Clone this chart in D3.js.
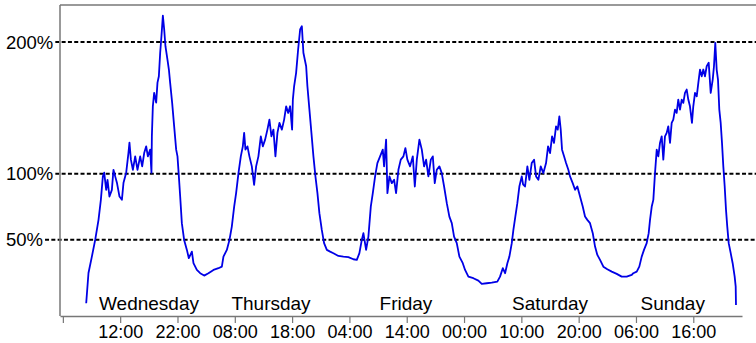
<!DOCTYPE html>
<html>
<head>
<meta charset="utf-8">
<script src="https://cdn.jsdelivr.net/npm/d3@7"></script>
<style>
  html, body { margin: 0; padding: 0; background: #fff; }
  svg { display: block; font-family: "Liberation Sans", Arial, Helvetica, sans-serif; }
</style>
</head>
<body>
<svg id="chart" width="756" height="343"></svg>
<script>
// Hours since Wednesday 00:00
const hours = [
  6.07,6.47,7.06,7.64,8.22,8.63,8.98,9.21,9.56,9.79,10.13,10.55,10.83,11.13,11.43,11.88,12.30,12.58,13.05,13.45,
  13.62,13.87,14.22,14.62,15.02,15.49,15.84,16.19,16.54,16.83,17.23,17.46,17.53,17.70,17.93,18.28,18.51,18.75,18.98,19.20,
  19.45,19.68,19.90,20.25,20.50,20.72,21.07,21.42,21.77,22.00,22.24,22.47,22.76,23.16,23.64,23.98,24.51,24.79,25.38,25.96,
  26.65,27.40,28.28,29.15,29.74,30.02,30.61,31.07,31.48,31.89,32.23,32.64,33.05,33.40,33.63,33.86,34.21,34.55,34.97,35.37,
  35.72,36.12,36.54,36.89,37.29,37.69,38.04,38.39,38.74,39.09,39.44,39.79,40.21,40.61,40.96,41.31,41.65,42.00,42.13,42.35,
  42.70,43.05,43.40,43.70,43.97,44.45,44.67,45.02,45.37,45.72,46.07,46.42,46.76,47.18,47.58,48.06,48.63,49.21,50.08,50.95,
  51.82,52.69,53.29,53.74,54.16,54.44,54.91,55.31,55.73,56.08,56.48,56.88,57.35,57.82,58.05,58.40,58.63,58.98,59.39,59.80,
  60.14,60.55,60.96,61.42,61.77,62.11,62.58,63.06,63.41,63.76,64.21,64.63,65.03,65.38,65.78,66.20,66.55,66.89,67.24,67.70,
  68.11,68.52,68.99,69.44,69.86,70.26,70.73,71.19,71.78,72.18,72.76,73.63,74.50,75.09,75.96,76.84,77.81,78.28,78.76,79.16,
  79.56,79.91,80.33,80.61,80.95,81.30,81.65,82.07,82.30,82.64,83.05,83.40,83.81,84.22,84.57,84.97,85.38,85.84,86.31,86.66,
  87.01,87.36,87.70,88.05,88.35,88.63,88.87,89.10,89.45,89.80,90.20,90.49,90.96,91.37,91.77,92.24,92.71,93.11,93.51,93.98,
  94.46,94.86,95.26,95.73,96.31,97.00,97.77,98.64,99.51,100.38,101.26,101.54,102.13,102.58,103.00,103.40,103.87,104.22,104.45,104.75,
  105.03,105.32,105.62,105.90,106.19,106.49,106.77,107.06,107.36,107.64,107.94,108.23,108.51,108.81,109.10,109.38,109.68,109.98,110.26,110.55,
  110.85,111.13,111.42,111.77,112.00,112.30,112.60,112.88,113.17,113.47,113.75,114.04,114.34,114.69,115.04,115.39,115.61,115.84,116.08,116.31,
  116.54,116.78,117.01,117.24,117.48,117.71,117.93,118.18,118.53,118.87,119.22,119.40,119.45
];
// Load relative to average (%)
const load = [
  1.7,24.7,37.1,49.8,65.0,80.2,98.0,100.8,87.8,95.4,82.7,87.8,103.0,98.0,93.2,82.7,80.2,93.2,100.8,116.0,
  123.6,110.7,103.0,113.2,103.0,113.2,105.6,115.7,120.8,113.2,118.3,100.8,128.4,151.2,161.4,154.0,169.2,174.0,191.8,204.4,
  220.0,209.5,196.8,186.7,179.1,169.0,153.8,136.0,118.3,113.2,98.0,82.7,62.5,49.8,42.2,35.9,40.9,32.1,27.0,24.5,
  22.7,24.5,27.0,28.3,29.5,37.1,42.2,49.8,59.9,75.1,85.3,100.5,113.2,120.8,131.0,118.3,120.8,113.2,105.6,91.6,
  105.6,113.2,128.4,120.8,125.9,133.5,141.1,128.4,133.5,113.2,131.0,138.6,133.5,141.1,151.2,146.2,151.2,133.5,156.3,166.4,
  176.6,194.3,209.5,212.0,191.8,181.6,166.4,148.7,131.0,113.2,98.0,85.3,70.1,57.4,47.3,42.2,40.9,39.7,37.6,37.1,
  36.7,35.1,34.6,39.7,49.8,54.9,42.2,52.3,75.1,85.3,98.0,108.1,113.2,118.3,105.6,125.9,85.3,98.0,92.9,95.4,
  85.3,103.0,110.7,113.2,119.5,110.7,105.6,113.2,90.3,110.7,125.9,118.3,105.6,110.7,98.0,110.7,113.2,92.9,103.0,105.6,
  100.5,90.3,77.7,67.5,62.5,52.3,47.3,37.1,32.1,27.0,21.9,20.7,18.9,16.4,16.9,17.3,18.1,21.9,28.3,24.5,
  32.1,37.1,47.3,57.4,67.5,77.7,90.3,98.0,92.0,90.3,105.6,95.4,108.1,110.7,98.0,95.4,105.6,100.5,108.1,120.8,
  115.7,128.4,123.4,136.0,133.5,143.6,133.5,118.3,113.2,108.1,103.0,98.0,92.9,87.8,90.3,82.7,75.1,67.5,65.0,62.5,
  54.9,44.7,38.4,34.6,29.5,27.5,25.7,24.0,21.9,21.9,23.2,24.5,25.7,29.5,37.1,42.2,47.3,54.9,65.0,75.1,
  80.2,100.5,118.3,113.2,123.4,128.4,110.7,128.4,131.0,136.0,123.4,138.6,141.1,148.7,146.2,156.3,148.7,156.3,153.8,161.4,
  163.9,156.3,151.2,138.6,151.2,161.4,158.8,169.0,179.1,174.0,179.1,174.0,181.6,184.2,161.4,171.5,181.6,199.4,179.1,171.5,
  148.7,138.6,123.4,105.6,90.3,72.6,59.9,47.3,39.7,32.1,21.9,14.3,0.4
];

const tickHours  = [2, 12, 22, 32, 42, 52, 62, 72, 82, 92, 102, 112];
const tickLabels = ["", "12:00", "22:00", "08:00", "18:00", "04:00", "14:00", "00:00", "10:00", "20:00", "06:00", "16:00"];

const dayNames = ["Wednesday", "Thursday", "Friday", "Saturday", "Sunday"];
const dayLabelHours = [17.03, 38.32, 61.87, 87.0, 108.41];

const refLevels = [200, 100, 50];
const refLabels = ["200%", "100%", "50%"];

const data = hours.map((h, i) => ({ h, v: load[i] }));

const svg = d3.select("#chart");
const W = 756;
const plotLeft = 60, plotRight = 742, plotTop = 5, plotBottom = 316;

const x = d3.scaleLinear().domain([1.5, 120.5]).range([plotLeft, plotRight]);
const y = d3.scaleLinear().domain([0, 200]).range([305.5, 42]);

const frameColor = "#777777";

// reference labels + dashed lines
const refG = svg.append("g");
refLevels.forEach((lv, i) => {
  const t = refG.append("text")
    .attr("x", 6)
    .attr("y", y(lv))
    .attr("dy", "0.36em")
    .attr("font-size", "18.5px")
    .attr("fill", "#000")
    .text(refLabels[i]);
  const tw = t.node().getComputedTextLength();
  refG.append("line")
    .attr("x1", 6 + tw + 2)
    .attr("x2", W)
    .attr("y1", y(lv))
    .attr("y2", y(lv))
    .attr("stroke", "#000")
    .attr("stroke-width", 2)
    .attr("stroke-dasharray", "4,2.3");
});

// frame: left and top
svg.append("line").attr("x1", plotLeft).attr("x2", plotLeft).attr("y1", plotTop).attr("y2", plotBottom)
  .attr("stroke", frameColor).attr("stroke-width", 1.5);
svg.append("line").attr("x1", plotLeft).attr("x2", W).attr("y1", plotTop).attr("y2", plotTop)
  .attr("stroke", frameColor).attr("stroke-width", 1.5);

// x axis
const xAxis = d3.axisBottom(x)
  .tickValues(tickHours)
  .tickFormat((d, i) => tickLabels[i])
  .tickSizeInner(7)
  .tickSizeOuter(0)
  .tickPadding(2);

const gx = svg.append("g")
  .attr("transform", `translate(0,${plotBottom})`)
  .call(xAxis);
gx.select(".domain").attr("stroke", frameColor).attr("stroke-width", 1.5);
gx.selectAll(".tick line").attr("stroke", frameColor).attr("stroke-width", 1.2);
gx.selectAll(".tick text")
  .attr("font-size", "18px")
  .attr("font-family", "Liberation Sans, Arial, sans-serif")
  .attr("fill", "#000");

// day labels
svg.append("g").selectAll("text")
  .data(dayNames)
  .join("text")
  .attr("x", (d, i) => x(dayLabelHours[i]))
  .attr("y", 309.5)
  .attr("text-anchor", "middle")
  .attr("font-size", "19px")
  .attr("fill", "#000")
  .text(d => d);

// series line
const line = d3.line().x(d => x(d.h)).y(d => y(d.v));
svg.append("path")
  .datum(data)
  .attr("d", line)
  .attr("fill", "none")
  .attr("stroke", "#0000e6")
  .attr("stroke-width", 1.8)
  .attr("stroke-linejoin", "round");
</script>
</body>
</html>
